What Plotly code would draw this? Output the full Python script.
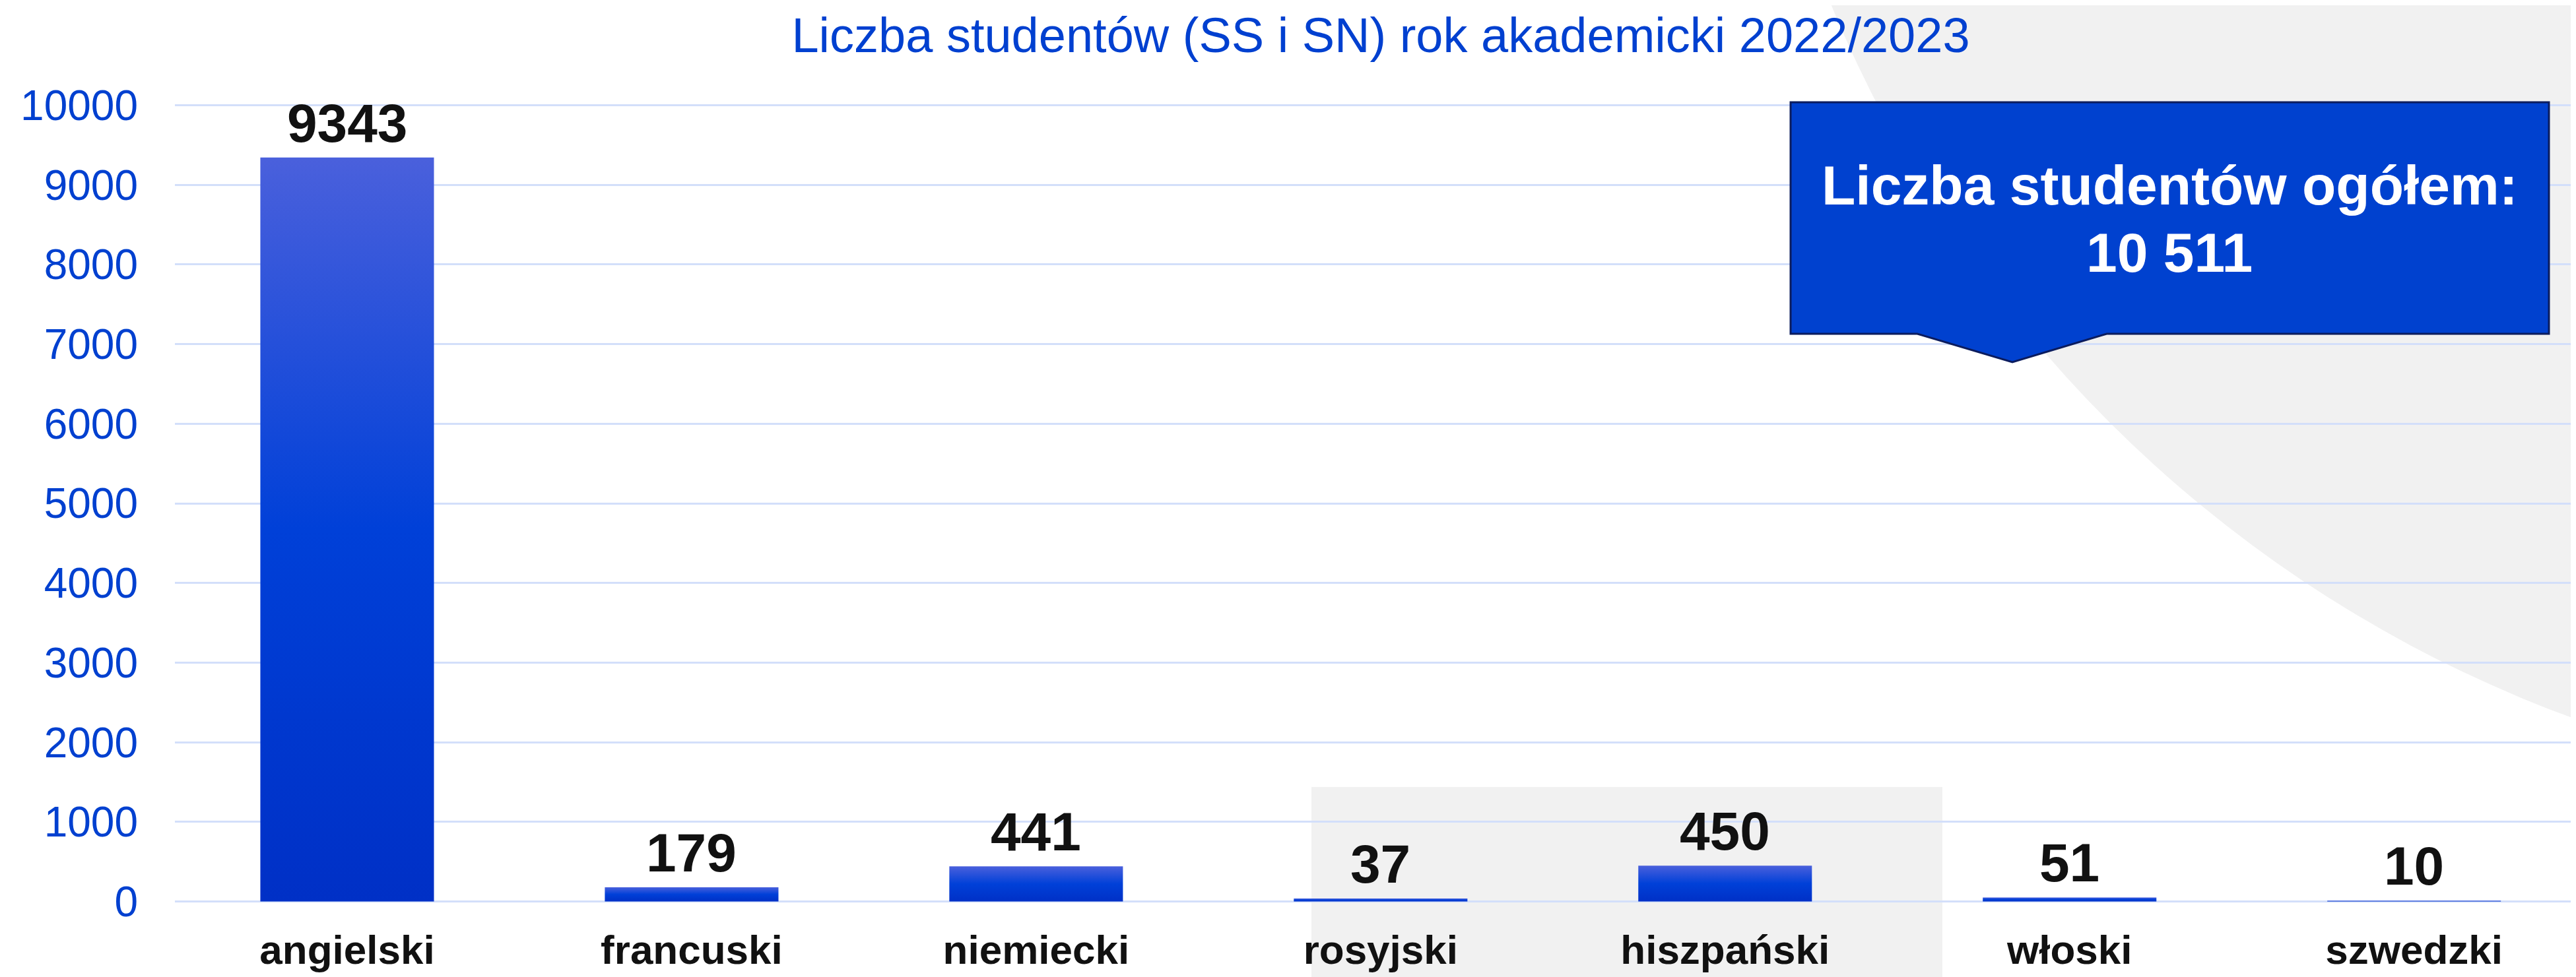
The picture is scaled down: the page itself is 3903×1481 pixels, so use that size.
import plotly.graph_objects as go

# ---- data ----
categories = ["angielski", "francuski", "niemiecki", "rosyjski", "hiszpański", "włoski", "szwedzki"]
students = [9343, 179, 441, 37, 450, 51, 10]
y_ticks = [0, 1000, 2000, 3000, 4000, 5000, 6000, 7000, 8000, 9000, 10000]
title_text = "Liczba studentów (SS i SN) rok akademicki 2022/2023"
callout_title = "Liczba studentów ogółem:"
callout_value = "10 511"

# ---- layout geometry (page pixels; the page body has an 8px margin) ----
OFF = 8
W, H = 3903 - OFF, 1481 - OFF
ML, MR, MT, MB = 265 - OFF, 0, 158 - OFF, 113
PW, PH = W - ML - MR, H - MT - MB
FONT = "Liberation Sans, Arial, Helvetica, sans-serif"
BLUE_TXT = "#0040d0"


def px_x(p):
    return (p - OFF - ML) / PW


def px_y(p):
    return (H - MB - (p - OFF)) / PH


fig = go.Figure()

# bars with vertical gradient (drawn on the axes from the data)
half = 0.252
grad = [[0.0, "#0030c6"], [0.5, "#0040d8"], [1.0, "#4a60dc"]]
for i, v in enumerate(students):
    fig.add_trace(go.Scatter(
        x=[i - half, i + half, i + half, i - half, i - half],
        y=[0, 0, v, v, 0],
        mode="lines", line=dict(width=0, color="#0040d8"),
        fill="toself",
        fillgradient=dict(type="vertical", colorscale=grad),
        showlegend=False, hoverinfo="skip",
    ))

annotations = []
# value labels above bars
for i, v in enumerate(students):
    annotations.append(dict(
        x=i, y=v, xref="x", yref="y", text=str(v), showarrow=False,
        xanchor="center", yanchor="bottom", yshift=5,
        font=dict(family=FONT, size=82, color="#111111", weight="bold"),
    ))

shapes = []
# big grey disc in the upper right
cx, cy, r = 4565, -729, 1936
shapes.append(dict(type="circle", xref="paper", yref="paper",
                   x0=px_x(cx - r), x1=px_x(cx + r), y0=px_y(cy + r), y1=px_y(cy - r),
                   fillcolor="#f1f1f1", line=dict(width=0), layer="below"))
# grey rectangle behind rosyjski / hiszpański
shapes.append(dict(type="rect", xref="paper", yref="paper",
                   x0=px_x(1987), x1=px_x(2943), y0=px_y(1481), y1=px_y(1193),
                   fillcolor="#f1f1f1", line=dict(width=0), layer="below"))
# callout box with pointer
pts = [(2713, 155), (3862, 155), (3862, 506), (3192, 506), (3049, 549), (2905, 506), (2713, 506)]
path = "M " + " L ".join(f"{px_x(a):.5f},{px_y(b):.5f}" for a, b in pts) + " Z"
shapes.append(dict(type="path", xref="paper", yref="paper", path=path,
                   fillcolor="#0041cf", line=dict(color="#0b1c5e", width=3), layer="above"))

annotations += [
    dict(xref="paper", yref="paper", x=px_x(3287), y=px_y(281), text=callout_title,
         showarrow=False, xanchor="center", yanchor="middle",
         font=dict(family=FONT, size=84, color="white", weight="bold")),
    dict(xref="paper", yref="paper", x=px_x(3287), y=px_y(383), text=callout_value,
         showarrow=False, xanchor="center", yanchor="middle",
         font=dict(family=FONT, size=84, color="white", weight="bold")),
]

fig.update_layout(
    width=W, height=H,
    margin=dict(l=ML, r=MR, t=MT, b=MB, pad=0),
    paper_bgcolor="white", plot_bgcolor="rgba(0,0,0,0)",
    shapes=shapes, annotations=annotations,
    title=dict(text=title_text, x=(2092 - OFF) / W, xanchor="center",
               y=1 - (53 - OFF) / H, yanchor="middle", yref="container",
               font=dict(family=FONT, size=74, color=BLUE_TXT)),
    xaxis=dict(range=[-0.5, 6.47], tickvals=list(range(len(categories))), ticktext=categories,
               showgrid=False, zeroline=False, showline=False, ticks="",
               tickfont=dict(family=FONT, size=62, color="#111111", weight="bold"),
               ticklabelstandoff=30),
    yaxis=dict(range=[-12, 10012], tickvals=y_ticks, ticktext=[str(t) for t in y_ticks],
               showgrid=True, gridcolor="#d3dffa", gridwidth=2.5, zeroline=False, showline=False,
               ticks="", tickfont=dict(family=FONT, size=64, color=BLUE_TXT),
               ticklabelstandoff=55),
)

fig.write_html("out.html")
